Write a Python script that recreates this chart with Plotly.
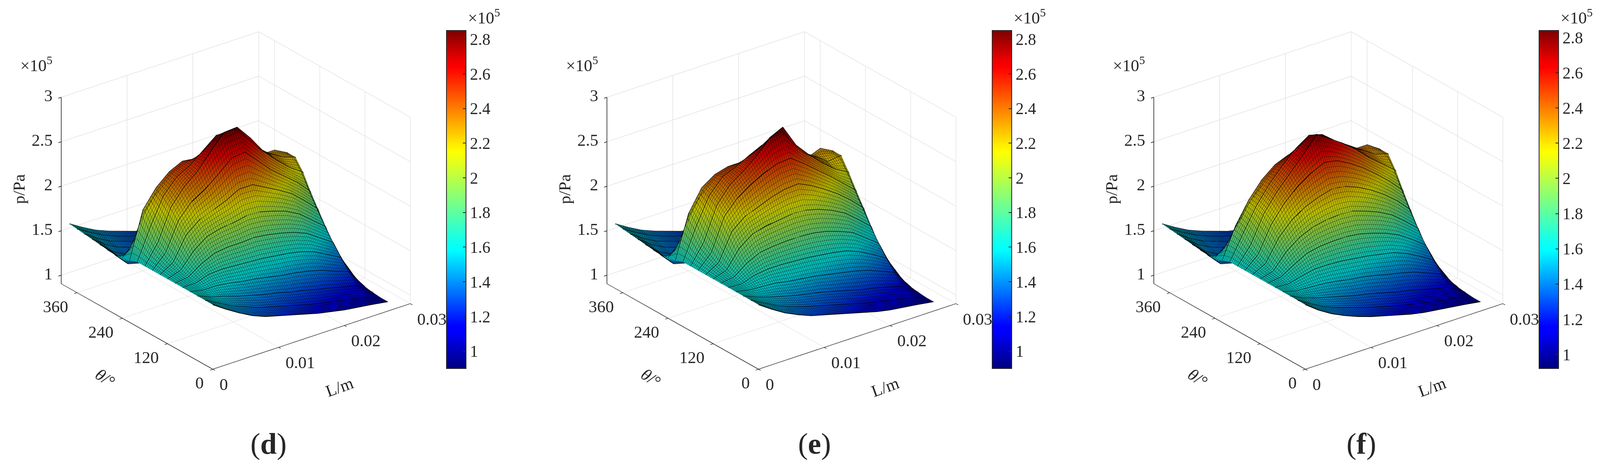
import plotly.graph_objects as go

PAGE_W, H = 4096, 1195  # the capture stops at 4096 px wide
W = 4257
SX = PAGE_W / W
MARGIN = 8  # browser body margin

theta = [0, 20, 40, 60, 80, 100, 120, 140, 160, 180, 200, 220, 240, 260, 280, 300, 320, 340, 360, 380]
length = [0, .002, .004, .006, .008, .010, .012, .014, .016, .018, .020, .022, .024, .0266]

p_d = [
    [1.63, 1.53, 1.44, 1.36, 1.30, 1.26, 1.22, 1.18, 1.14, 1.11, 1.08, 1.06, 1.04, 1.01],
    [1.63, 1.55, 1.47, 1.41, 1.35, 1.31, 1.27, 1.23, 1.19, 1.16, 1.13, 1.10, 1.07, 1.01],
    [1.63, 1.57, 1.53, 1.48, 1.44, 1.40, 1.37, 1.33, 1.30, 1.26, 1.23, 1.19, 1.16, 1.02],
    [1.63, 1.60, 1.60, 1.58, 1.55, 1.53, 1.50, 1.47, 1.45, 1.42, 1.38, 1.32, 1.27, 1.03],
    [1.63, 1.63, 1.68, 1.69, 1.68, 1.67, 1.66, 1.64, 1.62, 1.59, 1.54, 1.46, 1.38, 1.05],
    [1.63, 1.65, 1.75, 1.82, 1.84, 1.84, 1.85, 1.83, 1.80, 1.76, 1.70, 1.60, 1.50, 1.07],
    [1.63, 1.68, 1.85, 1.96, 2.00, 2.02, 2.05, 2.04, 2.00, 1.95, 1.87, 1.75, 1.63, 1.09],
    [1.63, 1.72, 1.98, 2.10, 2.16, 2.22, 2.30, 2.30, 2.22, 2.14, 2.05, 1.92, 1.78, 1.12],
    [1.63, 1.78, 2.10, 2.26, 2.35, 2.47, 2.60, 2.62, 2.47, 2.32, 2.20, 2.08, 1.93, 1.15],
    [1.63, 1.85, 2.20, 2.38, 2.50, 2.68, 2.84, 2.85, 2.68, 2.48, 2.33, 2.20, 2.10, 1.20],
    [1.63, 1.98, 2.28, 2.44, 2.52, 2.64, 2.76, 2.74, 2.58, 2.48, 2.36, 2.27, 2.22, 1.25],
    [1.60, 2.12, 2.32, 2.45, 2.52, 2.50, 2.50, 2.50, 2.42, 2.35, 2.30, 2.30, 2.22, 1.30],
    [1.58, 1.72, 1.85, 1.90, 1.92, 1.92, 1.92, 1.90, 1.86, 1.84, 1.82, 1.82, 1.80, 1.20],
    [1.57, 1.42, 1.38, 1.36, 1.35, 1.35, 1.34, 1.32, 1.30, 1.28, 1.28, 1.28, 1.28, 1.10],
    [1.58, 1.44, 1.36, 1.32, 1.30, 1.28, 1.26, 1.24, 1.22, 1.20, 1.18, 1.15, 1.12, 1.04],
    [1.59, 1.46, 1.38, 1.33, 1.30, 1.28, 1.25, 1.22, 1.20, 1.18, 1.15, 1.12, 1.09, 1.02],
    [1.60, 1.49, 1.41, 1.36, 1.32, 1.29, 1.26, 1.23, 1.20, 1.17, 1.14, 1.11, 1.08, 1.02],
    [1.61, 1.51, 1.43, 1.38, 1.33, 1.30, 1.26, 1.23, 1.20, 1.17, 1.14, 1.10, 1.07, 1.01],
    [1.62, 1.53, 1.45, 1.39, 1.34, 1.30, 1.27, 1.23, 1.20, 1.17, 1.13, 1.10, 1.06, 1.01],
    [1.63, 1.54, 1.46, 1.40, 1.35, 1.30, 1.27, 1.23, 1.20, 1.16, 1.13, 1.09, 1.06, 1.01],
]

p_e = [
    [1.63, 1.53, 1.44, 1.37, 1.31, 1.27, 1.23, 1.19, 1.15, 1.11, 1.08, 1.06, 1.04, 1.01],
    [1.63, 1.55, 1.47, 1.41, 1.36, 1.32, 1.28, 1.24, 1.20, 1.16, 1.13, 1.10, 1.07, 1.01],
    [1.63, 1.57, 1.52, 1.48, 1.44, 1.41, 1.38, 1.34, 1.30, 1.26, 1.23, 1.19, 1.15, 1.02],
    [1.63, 1.60, 1.59, 1.58, 1.55, 1.53, 1.51, 1.48, 1.45, 1.42, 1.38, 1.32, 1.26, 1.03],
    [1.63, 1.62, 1.67, 1.69, 1.69, 1.68, 1.67, 1.65, 1.63, 1.60, 1.54, 1.46, 1.37, 1.05],
    [1.63, 1.65, 1.76, 1.83, 1.85, 1.86, 1.86, 1.85, 1.82, 1.77, 1.71, 1.60, 1.49, 1.07],
    [1.63, 1.68, 1.88, 1.99, 2.03, 2.05, 2.07, 2.06, 2.02, 1.96, 1.88, 1.76, 1.63, 1.09],
    [1.63, 1.72, 2.02, 2.14, 2.20, 2.26, 2.30, 2.31, 2.24, 2.15, 2.05, 1.93, 1.79, 1.12],
    [1.63, 1.78, 2.14, 2.30, 2.40, 2.48, 2.54, 2.55, 2.44, 2.32, 2.20, 2.07, 1.94, 1.15],
    [1.63, 1.85, 2.22, 2.40, 2.50, 2.62, 2.78, 2.85, 2.60, 2.44, 2.30, 2.18, 2.10, 1.20],
    [1.63, 1.98, 2.28, 2.44, 2.50, 2.58, 2.65, 2.62, 2.52, 2.42, 2.33, 2.22, 2.24, 1.25],
    [1.60, 2.08, 2.32, 2.42, 2.46, 2.46, 2.46, 2.44, 2.38, 2.32, 2.26, 2.32, 2.24, 1.30],
    [1.58, 1.72, 1.85, 1.90, 1.92, 1.92, 1.92, 1.90, 1.86, 1.84, 1.82, 1.82, 1.80, 1.20],
    [1.57, 1.42, 1.38, 1.36, 1.35, 1.35, 1.34, 1.32, 1.30, 1.28, 1.28, 1.28, 1.28, 1.10],
    [1.58, 1.44, 1.36, 1.32, 1.30, 1.28, 1.26, 1.24, 1.22, 1.20, 1.18, 1.15, 1.12, 1.04],
    [1.59, 1.46, 1.38, 1.33, 1.30, 1.28, 1.25, 1.22, 1.20, 1.18, 1.15, 1.12, 1.09, 1.02],
    [1.60, 1.49, 1.41, 1.36, 1.32, 1.29, 1.26, 1.23, 1.20, 1.17, 1.14, 1.11, 1.08, 1.02],
    [1.61, 1.51, 1.43, 1.38, 1.33, 1.30, 1.26, 1.23, 1.20, 1.17, 1.14, 1.10, 1.07, 1.01],
    [1.62, 1.53, 1.45, 1.39, 1.34, 1.30, 1.27, 1.23, 1.20, 1.17, 1.13, 1.10, 1.06, 1.01],
    [1.63, 1.54, 1.46, 1.40, 1.35, 1.30, 1.27, 1.23, 1.20, 1.16, 1.13, 1.09, 1.06, 1.01],
]

p_f = [
    [1.63, 1.52, 1.43, 1.36, 1.30, 1.25, 1.21, 1.17, 1.13, 1.10, 1.08, 1.06, 1.04, 1.01],
    [1.63, 1.54, 1.46, 1.40, 1.35, 1.30, 1.26, 1.22, 1.18, 1.15, 1.12, 1.09, 1.07, 1.01],
    [1.63, 1.56, 1.51, 1.47, 1.43, 1.39, 1.36, 1.32, 1.28, 1.25, 1.21, 1.17, 1.14, 1.02],
    [1.63, 1.59, 1.58, 1.57, 1.55, 1.52, 1.50, 1.47, 1.43, 1.40, 1.36, 1.30, 1.24, 1.03],
    [1.63, 1.62, 1.66, 1.69, 1.69, 1.68, 1.66, 1.64, 1.61, 1.58, 1.52, 1.44, 1.35, 1.05],
    [1.63, 1.65, 1.74, 1.82, 1.85, 1.86, 1.86, 1.84, 1.80, 1.75, 1.68, 1.58, 1.47, 1.07],
    [1.63, 1.67, 1.84, 1.95, 2.02, 2.05, 2.06, 2.05, 2.00, 1.94, 1.86, 1.74, 1.61, 1.09],
    [1.63, 1.71, 1.95, 2.10, 2.20, 2.26, 2.30, 2.28, 2.22, 2.14, 2.04, 1.92, 1.77, 1.12],
    [1.63, 1.76, 2.05, 2.24, 2.38, 2.48, 2.55, 2.52, 2.44, 2.34, 2.22, 2.09, 1.94, 1.15],
    [1.63, 1.82, 2.12, 2.32, 2.48, 2.64, 2.82, 2.72, 2.62, 2.50, 2.36, 2.24, 2.12, 1.20],
    [1.63, 1.90, 2.16, 2.36, 2.52, 2.66, 2.76, 2.72, 2.60, 2.50, 2.40, 2.30, 2.26, 1.25],
    [1.60, 1.94, 2.18, 2.36, 2.48, 2.54, 2.56, 2.54, 2.48, 2.40, 2.36, 2.36, 2.26, 1.30],
    [1.58, 1.70, 1.84, 1.90, 1.92, 1.92, 1.92, 1.90, 1.88, 1.86, 1.84, 1.84, 1.82, 1.20],
    [1.57, 1.42, 1.38, 1.36, 1.35, 1.35, 1.34, 1.32, 1.30, 1.28, 1.28, 1.28, 1.28, 1.10],
    [1.58, 1.44, 1.36, 1.32, 1.30, 1.28, 1.26, 1.24, 1.22, 1.20, 1.18, 1.15, 1.12, 1.04],
    [1.59, 1.46, 1.38, 1.33, 1.30, 1.28, 1.25, 1.22, 1.20, 1.18, 1.15, 1.12, 1.09, 1.02],
    [1.60, 1.49, 1.41, 1.36, 1.32, 1.29, 1.26, 1.23, 1.20, 1.17, 1.14, 1.11, 1.08, 1.02],
    [1.61, 1.51, 1.43, 1.38, 1.33, 1.30, 1.26, 1.23, 1.20, 1.17, 1.14, 1.10, 1.07, 1.01],
    [1.62, 1.53, 1.45, 1.39, 1.34, 1.30, 1.27, 1.23, 1.20, 1.17, 1.13, 1.10, 1.06, 1.01],
    [1.63, 1.54, 1.46, 1.40, 1.35, 1.30, 1.27, 1.23, 1.20, 1.16, 1.13, 1.09, 1.06, 1.01],
]

l_ticks = [0, .01, .02, .03]
theta_ticks = [0, 120, 240, 360]
p_ticks = [1, 1.5, 2, 2.5, 3]
cbar_ticks = [1, 1.2, 1.4, 1.6, 1.8, 2, 2.2, 2.4, 2.6, 2.8]
cbar_text = ['1', '1.2', '1.4', '1.6', '1.8', '2', '2.2', '2.4', '2.6', '2.8']

jet = [
    [0, '#00007f'], [.11, '#0000ff'], [.125, '#0000ff'], [.35, '#00ffff'], [.375, '#0fffef'],
    [.64, '#ffff00'], [.66, '#ffef00'], [.89, '#ff0000'], [.91, '#ef0000'], [1, '#7f0000'],
]

FONT = 'Liberation Serif'
INK = '#262626'

panels = [
    ('d', p_d, 0, .9, 2.85),
    ('e', p_e, 1452, .9, 2.85),
    ('f', p_f, 2907, .92, 2.84),
]

fig = go.Figure()
notes = []
layout_scenes = {}


def px_x(x):
    return (x * SX - MARGIN) / (PAGE_W - 2 * MARGIN)


def px_y(y):
    return 1 - (y - MARGIN) / (H - 2 * MARGIN)


def note(text, x, y, size=43, angle=0):
    notes.append(dict(text=text, x=px_x(x), y=px_y(y), xref='paper', yref='paper', showarrow=False,
                      xanchor='center', yanchor='middle', textangle=angle,
                      font=dict(family=FONT, size=size, color=INK)))


def tick_note(text, x, y, z, anchor, xshift, yshift):
    return dict(text=text, x=x, y=y, z=z, showarrow=False, xanchor=anchor, yanchor='middle',
                xshift=xshift, yshift=yshift, font=dict(family=FONT, size=43, color=INK))


def axis(rng, ticks):
    return dict(range=rng, tickvals=ticks, showticklabels=False, ticks='inside',
                ticklen=9, tickcolor='black', tickwidth=3, showline=True, linecolor='black', linewidth=3,
                gridcolor='#d4d4d4', gridwidth=2, showbackground=False, zeroline=False, showspikes=False,
                title='')


for i, (tag, z, dx, cmin, cmax) in enumerate(panels):
    name = 'scene' if i == 0 else f'scene{i + 1}'
    fig.add_trace(go.Surface(
        x=length, y=theta, z=z, scene=name, cmin=cmin, cmax=cmax, colorscale=jet, hoverinfo='skip',
        lighting=dict(ambient=.74, diffuse=0, specular=0, roughness=1, fresnel=0),
        contours=dict(
            x=dict(show=True, start=0, end=.0266, size=.0003, color='black', width=4, highlight=False),
            y=dict(show=True, start=0, end=380, size=4, color='black', width=4, highlight=False),
            z=dict(highlight=False),
        ),
        colorbar=dict(x=px_x(1188 + dx), xanchor='left', xpad=0, y=px_y(78), yanchor='top', ypad=0,
                      lenmode='pixels', len=865, thicknessmode='pixels', thickness=50,
                      outlinecolor=INK, outlinewidth=2, ticks='inside', ticklen=9, tickcolor=INK, tickwidth=2,
                      tickvals=cbar_ticks, ticktext=cbar_text, tickfont=dict(family=FONT, size=42, color=INK)),
    ))
    # darker bands that run across the hill along one theta
    for t, row in zip(theta, z):
        fig.add_trace(go.Scatter3d(x=length, y=[t] * len(length), z=row, scene=name, mode='lines',
                                   line=dict(color='black', width=4), showlegend=False, hoverinfo='skip'))
    ticks = [tick_note(str(t), t, 0, .904, 'left', 16, -39) for t in l_ticks]
    ticks += [tick_note(str(t), 0, t, .904, 'right', -20, -35) for t in theta_ticks]
    ticks += [tick_note(str(t), 0, 402, t, 'right', -20, 4) for t in p_ticks]
    layout_scenes[name] = dict(
        domain=dict(x=[px_x(27 + dx), px_x(1227 + dx)], y=[px_y(1018), px_y(8)]),
        xaxis=axis([0, .03], l_ticks),
        yaxis=axis([0, 402], theta_ticks),
        zaxis=axis([.904, 3], p_ticks),
        annotations=ticks,
        aspectmode='manual', aspectratio=dict(x=1.262, y=1.262, z=1.048),
        camera=dict(projection=dict(type='orthographic'),
                    eye=dict(x=-.5489 * 1.6, y=-.7153 * 1.6, z=.4325 * 1.6), up=dict(x=0, y=0, z=1),
                    center=dict(x=0, y=0, z=0)),
    )
    note('×10<sup>5</sup>', 1288 + dx, 42)
    note('×10<sup>5</sup>', 97 + dx, 164)
    note('p/Pa', 50 + dx, 484, angle=-90)
    note('L/m', 903 + dx, 990, angle=-20)
    note('<i>θ</i>/°', 280 + dx, 968, angle=35)
    note(f'(<b>{tag}</b>)', 715 + dx, 1135, size=76)

fig.update_layout(width=PAGE_W - 2 * MARGIN, height=H - 2 * MARGIN, margin=dict(l=0, r=0, t=0, b=0),
                  paper_bgcolor='white', annotations=notes, **layout_scenes)
fig.write_html("out.html")
